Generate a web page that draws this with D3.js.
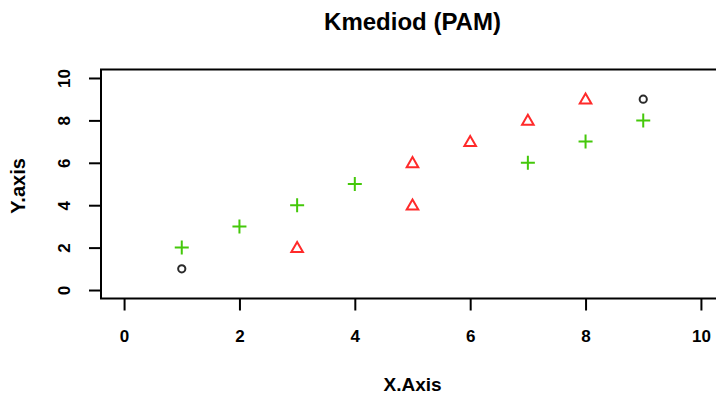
<!DOCTYPE html>
<html>
<head>
<meta charset="utf-8">
<script src="https://cdn.jsdelivr.net/npm/d3@7"></script>
<style>
  body { margin: 0; background: #fff; }
  svg { display: block; font-family: "Liberation Sans", Arial, sans-serif; }
</style>
</head>
<body>
<svg id="chart" width="716" height="397"></svg>
<script>
// points, cluster id: 1 = black circle, 2 = red triangle, 3 = green plus
const xValues = [1, 9, 3, 5, 5, 6, 7, 8, 1, 2, 3, 4, 7, 8, 9];
const yValues = [1, 9, 2, 4, 6, 7, 8, 9, 2, 3, 4, 5, 6, 7, 8];
const clusterIds = [1, 1, 2, 2, 2, 2, 2, 2, 3, 3, 3, 3, 3, 3, 3];
const xTicks = [0, 2, 4, 6, 8, 10];
const yTicks = [0, 2, 4, 6, 8, 10];

const title = "Kmediod (PAM)";
const xLabel = "X.Axis";
const yLabel = "Y.axis";

const points = xValues.map((x, i) => ({x: x, y: yValues[i], cluster: clusterIds[i]}));

const svg = d3.select("#chart");

// plot region, R style (limits padded by 4%)
const plotLeft = 101, plotRight = 724, plotTop = 69.5, plotBottom = 298.5;

const scaleX = d3.scaleLinear().domain([-0.4, 10.4]).range([plotLeft, plotRight]);
const scaleY = d3.scaleLinear().domain([-0.4, 10.4]).range([plotBottom, plotTop]);

const colors = {1: "#2a2a2a", 2: "#ff2a2a", 3: "#44c80a"};

// x axis
const axisX = d3.axisBottom(scaleX).tickValues(xTicks).tickSize(12).tickPadding(19).tickSizeOuter(0);
const gx = svg.append("g")
    .attr("transform", `translate(0, ${plotBottom})`)
    .call(axisX);
gx.select(".domain").remove();
gx.selectAll("line").attr("stroke", "#000").attr("stroke-width", 2);
gx.selectAll("text")
    .attr("fill", "#000")
    .style("font-size", "17px")
    .style("font-weight", "bold");

// y axis, labels turned like R's default
const axisY = d3.axisLeft(scaleY).tickValues(yTicks).tickSize(12).tickSizeOuter(0);
const gy = svg.append("g")
    .attr("transform", `translate(${plotLeft}, 0)`)
    .call(axisY);
gy.select(".domain").remove();
gy.selectAll("line").attr("stroke", "#000").attr("stroke-width", 2);
gy.selectAll("text")
    .attr("fill", "#000")
    .attr("x", null)
    .attr("text-anchor", "middle")
    .attr("transform", "translate(-37, 0) rotate(-90)")
    .attr("dy", "0.35em")
    .style("font-size", "17px")
    .style("font-weight", "bold");

// box
svg.append("rect")
    .attr("x", plotLeft).attr("y", plotTop)
    .attr("width", plotRight - plotLeft).attr("height", plotBottom - plotTop)
    .attr("fill", "none")
    .attr("stroke", "#000")
    .attr("stroke-width", 2);

// points
const marks = svg.append("g");
points.forEach(d => {
    const cx = scaleX(d.x), cy = scaleY(d.y);
    const c = colors[d.cluster];
    if (d.cluster === 1) {
        marks.append("circle")
            .attr("cx", cx).attr("cy", cy).attr("r", 3.6)
            .attr("fill", "none").attr("stroke", c).attr("stroke-width", 2);
    } else if (d.cluster === 2) {
        marks.append("path")
            .attr("d", d3.symbol(d3.symbolTriangle, 58)())
            .attr("transform", `translate(${cx}, ${cy + 1})`)
            .attr("fill", "none").attr("stroke", c).attr("stroke-width", 2);
    } else {
        marks.append("path")
            .attr("d", `M${cx - 7},${cy}H${cx + 7}M${cx},${cy - 7}V${cy + 7}`)
            .attr("stroke", c).attr("stroke-width", 2);
    }
});

// titles
svg.append("text")
    .attr("x", (plotLeft + plotRight) / 2).attr("y", 30)
    .attr("text-anchor", "middle")
    .style("font-size", "24px").style("font-weight", "bold")
    .text(title);

svg.append("text")
    .attr("x", (plotLeft + plotRight) / 2).attr("y", 391)
    .attr("text-anchor", "middle")
    .style("font-size", "19px").style("font-weight", "bold")
    .text(xLabel);

svg.append("text")
    .attr("transform", `translate(25, ${(plotTop + plotBottom) / 2 + 2}) rotate(-90)`)
    .attr("text-anchor", "middle")
    .style("font-size", "20px").style("font-weight", "bold")
    .text(yLabel);
</script>
</body>
</html>
